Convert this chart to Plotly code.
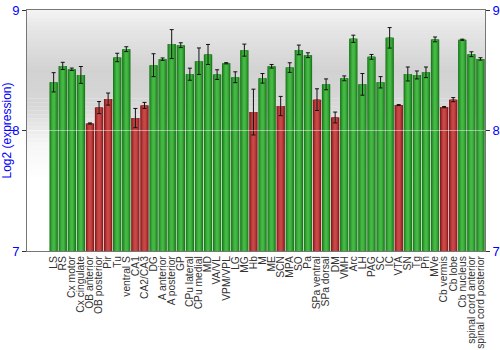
import plotly.graph_objects as go

regions = ["LS", "RS", "Cx motor", "Cx cingulate", "OB anterior", "OB posterior", "Pir", "Tu",
           "ventral S", "CA1", "CA2/CA3", "DG", "A anterior", "A posterior", "GP", "CPu lateral",
           "CPu medial", "MD", "VA/VL", "VPM/VPL", "LG", "MG", "Hb", "M", "ME", "SCN", "MPA", "SO",
           "Pa", "SPa ventral", "SPa dorsal", "DM", "VMH", "Arc", "LH", "PAG", "SC", "IC", "VTA",
           "SN", "Tg", "Pn", "MVe", "Cb vermis", "Cb lobe", "Cb nucleus", "spinal cord anterior",
           "spinal cord posterior"]
expression = [8.40, 8.536, 8.508, 8.461, 8.058, 8.19, 8.261, 8.606,
              8.675, 8.103, 8.208, 8.542, 8.592, 8.717, 8.708, 8.467,
              8.575, 8.631, 8.464, 8.558, 8.442, 8.667, 8.153, 8.433, 8.533, 8.203, 8.522, 8.669,
              8.625, 8.256, 8.383, 8.108, 8.433, 8.761, 8.383, 8.611, 8.40, 8.769, 8.211,
              8.469, 8.461, 8.483, 8.756, 8.194, 8.256, 8.753, 8.633,
              8.594]
error = [0.08, 0.03, 0.01, 0.07, 0.005, 0.05, 0.05, 0.035,
         0.02, 0.08, 0.025, 0.095, 0.01, 0.12, 0.02, 0.05,
         0.11, 0.083, 0.04, 0.005, 0.045, 0.05, 0.19, 0.04, 0.015, 0.08, 0.04, 0.04,
         0.02, 0.09, 0.045, 0.045, 0.02, 0.03, 0.09, 0.02, 0.047, 0.085, 0.004,
         0.058, 0.033, 0.044, 0.02, 0.005, 0.017, 0.005, 0.02,
         0.01]
low_regions = ["OB anterior", "OB posterior", "Pir", "CA1", "CA2/CA3", "Hb", "SCN",
               "SPa ventral", "DM", "VTA", "Cb vermis", "Cb lobe"]

y_range = [7, 9]
y_ticks = [7, 8, 9]

green_shades = ["#176e17", "#238723", "#2f9a2f", "#3aab3a", "#45b845"]
red_shades = ["#761414", "#952424", "#ab3131", "#bd3e3e", "#c84848"]
widths = [0.92, 0.8, 0.64, 0.46, 0.26]

is_low = [r in low_regions for r in regions]

fig = go.Figure()
base = [v - y_range[0] for v in expression]
for i, w in enumerate(widths):
    colors = [red_shades[i] if lo else green_shades[i] for lo in is_low]
    last = i == len(widths) - 1
    fig.add_trace(go.Bar(
        x=regions, y=base, base=y_range[0], width=w,
        marker=dict(color=colors, line=dict(width=0)),
        error_y=dict(type="data", array=error, color="#111111", thickness=1, width=2,
                     visible=last),
        showlegend=False, hoverinfo="skip",
    ))

# invisible trace for right axis
fig.add_trace(go.Scatter(x=[regions[0]], y=[y_range[0]], yaxis="y2", mode="markers",
                         marker=dict(opacity=0), showlegend=False, hoverinfo="skip"))

# background gradient strips
stops = [(0.0, 245), (0.08, 230), (0.25, 210), (0.4, 215), (0.55, 245), (0.7, 255), (1.0, 255)]
n = 60
shapes = []
for k in range(n):
    t0 = k / n
    t1 = (k + 1) / n
    tm = (t0 + t1) / 2
    for j in range(len(stops) - 1):
        a, ca = stops[j]
        b, cb = stops[j + 1]
        if a <= tm <= b:
            c = ca + (cb - ca) * (tm - a) / (b - a)
            break
    c = int(round(c))
    shapes.append(dict(type="rect", xref="paper", yref="paper", x0=0, x1=1,
                       y0=1 - t1, y1=1 - t0 + 0.001, fillcolor=f"rgb({c},{c},{c})",
                       line=dict(width=0), layer="below"))
shapes.append(dict(type="line", xref="paper", yref="y", x0=0, x1=1, y0=8, y1=8,
                   line=dict(color="rgba(255,255,255,0.45)", width=1), layer="above"))

axis_font = dict(family="Liberation Sans, Arial, sans-serif", size=13, color="blue")
fig.update_layout(
    width=500, height=350,
    margin=dict(l=27, r=15, t=10, b=99),
    paper_bgcolor="white", plot_bgcolor="white",
    barmode="overlay", bargap=0.08,
    shapes=shapes,
    font=dict(family="Liberation Sans, Arial, sans-serif"),
    xaxis=dict(type="category", tickmode="array", tickvals=regions, ticktext=regions,
               tickangle=-90, tickfont=dict(size=10.3, color="#333333"), automargin=False,
               showline=True, mirror=True, linecolor="#777777", linewidth=1,
               ticks="", showgrid=False, fixedrange=True),
    yaxis=dict(range=y_range, tickvals=y_ticks, tickfont=axis_font, showgrid=False,
               zeroline=False, showline=True, linecolor="#777777", linewidth=1,
               ticks="outside", ticklen=4, tickcolor="#333333", automargin=False,
               title=dict(text="Log2 (expression)", font=dict(size=12, color="blue"))),
    yaxis2=dict(range=y_range, tickvals=y_ticks, tickfont=axis_font, overlaying="y",
                side="right", showgrid=False, zeroline=False, showline=True, automargin=False,
                linecolor="#777777", linewidth=1, ticks="outside", ticklen=4,
                tickcolor="#333333"),
)

fig.write_html("out.html")
